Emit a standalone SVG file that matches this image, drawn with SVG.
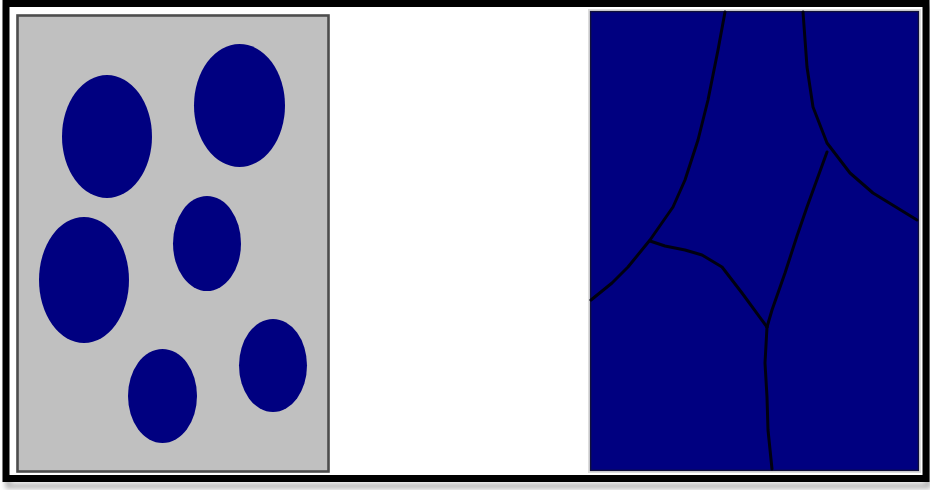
<svg xmlns="http://www.w3.org/2000/svg" width="930" height="490" viewBox="0 0 930 490">
  <defs>
    <filter id="shadow" x="-5%" y="-5%" width="110%" height="120%">
      <feGaussianBlur stdDeviation="2.5"/>
    </filter>
  </defs>
  <style>
    .particle { fill: #000080; }
    .gb { fill: none; stroke: #000010; stroke-width: 3; stroke-linejoin: round; stroke-linecap: round; }
  </style>
  <rect x="0" y="0" width="930" height="490" fill="#ffffff"/>
  <g id="frame">
    <rect x="8" y="8" width="920" height="478" fill="none" stroke="#b0b0b0" stroke-width="5" filter="url(#shadow)"/>
    <rect x="6" y="3.5" width="920" height="475" fill="#ffffff" stroke="#000000" stroke-width="7"/>
  </g>
  <g id="left-panel">
    <rect x="17.5" y="15.5" width="311" height="456" fill="#c0c0c0" stroke="#4d4d4d" stroke-width="2.6"/>
    <g id="particles">
      <ellipse id="p1" class="particle" cx="107" cy="136.5" rx="45" ry="61.5"/>
      <ellipse id="p2" class="particle" cx="239.5" cy="105.5" rx="45.5" ry="61.5"/>
      <ellipse id="p3" class="particle" cx="84" cy="280" rx="45" ry="63"/>
      <ellipse id="p4" class="particle" cx="207" cy="243.5" rx="34" ry="47.5"/>
      <ellipse id="p5" class="particle" cx="273" cy="365.5" rx="34" ry="46.5"/>
      <ellipse id="p6" class="particle" cx="162.5" cy="396" rx="34.5" ry="47"/>
    </g>
  </g>
  <g id="right-panel">
    <rect x="589" y="10" width="331" height="462" fill="#000080" stroke="#dcdcdc" stroke-width="2"/>
    <rect x="590.6" y="11.6" width="327.8" height="458.8" fill="none" stroke="#10103a" stroke-width="1.4"/>
    <g id="grain-boundaries">
      <polyline class="gb" points="725,12 718,50 708,100 698,140 685,180 673,207 650,240 628,267 612,283 591,300"/>
      <polyline class="gb" points="650,241 665,246 685,250 702,255 722,267 742,293 767,327"/>
      <polyline class="gb" points="767,327 765,363 767,397 768,430 772,469"/>
      <polyline class="gb" points="767,327 772,310 785,273 797,236 807,207 827,152"/>
      <polyline class="gb" points="803,12 807,67 813,107 827,143 850,173 873,193 917,220"/>
    </g>
  </g>
</svg>
